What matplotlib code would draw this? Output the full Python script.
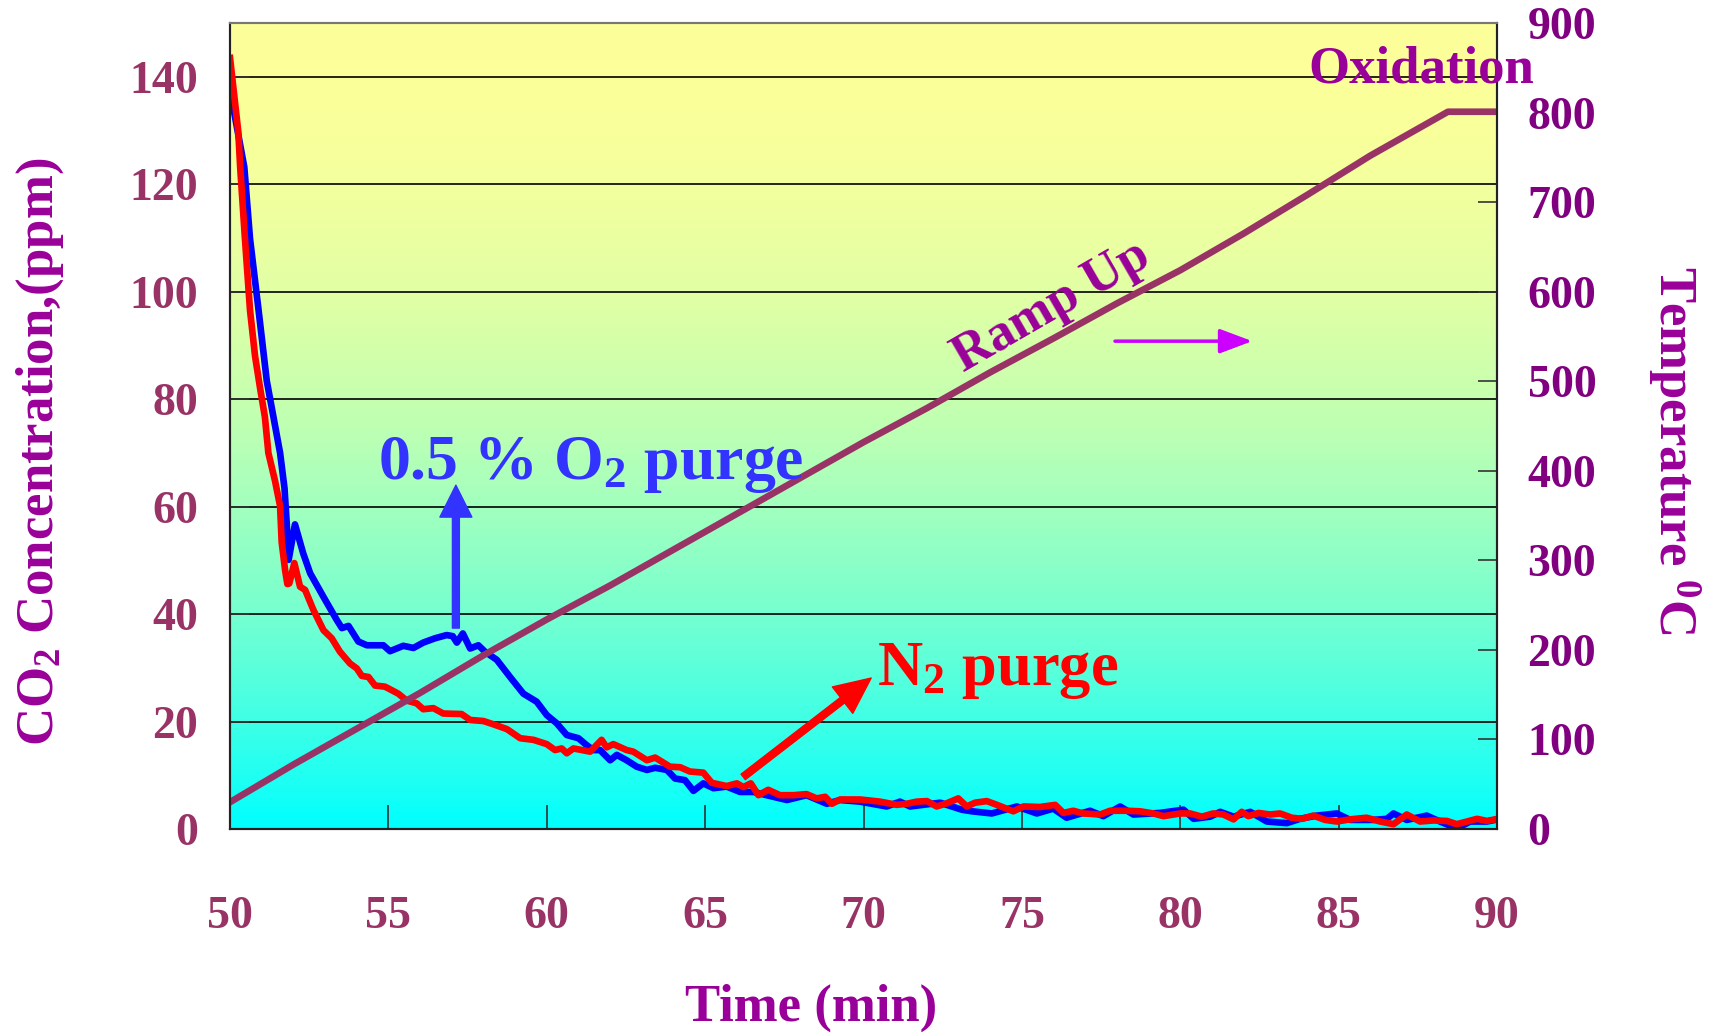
import numpy as np
import matplotlib.pyplot as plt

# values
blue_t = [50.0, 50.45, 50.63, 50.9, 51.16, 51.37, 51.58, 51.72, 51.79, 51.85, 52.05, 52.31, 52.53,
          52.95, 53.37, 53.53, 53.74, 54.05, 54.32, 54.84, 55.05, 55.47, 55.79, 56.1, 56.47, 56.84,
          57.03, 57.16, 57.35, 57.58, 57.84, 58.05, 58.42, 58.84, 59.26, 59.68, 60.0, 60.31, 60.63,
          61.0, 61.26, 61.47, 61.68, 62.0, 62.21, 62.52, 62.84, 63.16, 63.42, 63.79, 64.05, 64.36,
          64.63, 64.94, 65.26, 65.68, 66.1, 66.52, 67.15, 67.58, 68.2, 68.84, 69.26, 69.89, 70.73,
          71.15, 71.47, 72.42, 73.1, 73.42, 74.05, 74.84, 75.47, 75.99, 76.41, 77.15, 77.57, 78.1,
          78.52, 79.36, 80.1, 80.42, 80.94, 81.26, 81.68, 82.21, 82.73, 83.36, 83.78, 84.31, 84.94,
          85.36, 86.1, 86.52, 86.73, 87.15, 87.78, 88.2, 88.73, 89.15, 89.68, 89.94]
blue_co2 = [137.5, 123.2, 109.9, 96.6, 83.4, 76.7, 70.0, 63.4, 56.8, 50.1, 56.7, 51.3, 47.6,
            43.2, 38.9, 37.4, 37.8, 34.9, 34.2, 34.2, 33.1, 34.1, 33.7, 34.7, 35.5, 36.1,
            35.9, 34.7, 36.4, 33.6, 34.2, 33.0, 31.5, 28.3, 25.2, 23.7, 21.2, 19.7, 17.5,
            16.9, 15.6, 14.7, 14.7, 12.8, 13.8, 12.8, 11.6, 11.0, 11.4, 11.0, 9.4, 9.1,
            7.1, 8.5, 7.6, 7.9, 6.9, 6.9, 6.0, 5.4, 6.3, 4.7, 5.4, 5.1, 4.2,
            5.1, 4.2, 4.9, 3.6, 3.3, 2.9, 4.2, 2.9, 3.8, 2.1, 3.4, 2.4, 4.2,
            2.7, 3.0, 3.6, 1.9, 2.3, 3.2, 2.3, 3.2, 1.4, 1.1, 1.9, 2.5, 2.9,
            1.7, 1.7, 1.9, 2.9, 1.7, 2.5, 1.4, 0.1, 1.4, 1.4, 1.7]

red_t = [50.0, 50.26, 50.32, 50.47, 50.63, 50.79, 50.95, 51.1, 51.21, 51.42, 51.58, 51.63, 51.74,
         51.81, 51.87, 52.03, 52.21, 52.37, 52.63, 52.95, 53.21, 53.47, 53.79, 54.0, 54.16, 54.37,
         54.58, 54.89, 55.31, 55.58, 55.89, 56.1, 56.42, 56.73, 57.31, 57.58, 58.0, 58.31, 58.74,
         59.16, 59.58, 60.0, 60.26, 60.47, 60.63, 60.84, 61.37, 61.73, 61.89, 62.1, 62.52, 62.73,
         63.16, 63.42, 63.89, 64.21, 64.52, 64.94, 65.21, 65.68, 66.0, 66.21, 66.44, 66.68, 66.99,
         67.36, 67.79, 68.2, 68.52, 68.79, 69.0, 69.26, 69.89, 70.52, 71.05, 71.36, 71.68, 72.0,
         72.31, 72.63, 72.99, 73.26, 73.52, 73.89, 74.21, 74.73, 75.05, 75.57, 76.05, 76.31, 76.62,
         76.94, 77.47, 77.78, 78.31, 78.73, 79.15, 79.47, 80.0, 80.31, 80.68, 81.04, 81.36, 81.68,
         81.94, 82.15, 82.47, 82.83, 83.15, 83.52, 83.84, 84.2, 84.57, 84.94, 85.36, 85.88, 86.31,
         86.73, 87.15, 87.57, 88.0, 88.42, 88.73, 89.05, 89.37, 89.68, 89.94]
red_co2 = [143.5, 129.8, 123.2, 109.9, 96.6, 88.0, 82.0, 76.7, 70.0, 64.8, 60.1, 53.4, 48.1,
           45.6, 45.7, 49.5, 45.1, 44.5, 40.8, 37.0, 35.5, 33.0, 30.8, 29.9, 28.5, 28.3,
           26.7, 26.5, 25.2, 23.9, 23.4, 22.3, 22.5, 21.5, 21.4, 20.3, 20.1, 19.5, 18.6,
           16.9, 16.6, 15.8, 14.7, 15.0, 14.1, 15.0, 14.4, 16.6, 15.2, 15.8, 14.7, 14.4,
           12.8, 13.3, 11.6, 11.5, 10.7, 10.5, 8.6, 8.0, 8.5, 7.8, 8.5, 6.3, 7.3,
           6.3, 6.3, 6.5, 5.7, 6.0, 4.7, 5.5, 5.5, 5.1, 4.5, 4.7, 5.1, 5.2,
           4.2, 4.8, 5.7, 4.2, 4.9, 5.2, 4.5, 3.3, 4.2, 4.1, 4.5, 3.0, 3.4,
           2.9, 2.7, 3.4, 3.4, 3.3, 2.9, 2.4, 2.9, 2.9, 2.3, 2.9, 2.7, 1.8,
           3.2, 2.4, 3.0, 2.7, 2.9, 2.1, 1.9, 2.5, 1.7, 1.4, 1.8, 2.1, 1.4,
           0.9, 2.7, 1.4, 1.6, 1.5, 0.9, 1.4, 1.9, 1.5, 1.8]

temp_t = [50, 52, 54, 56, 58, 60, 62, 64, 66, 68, 70, 72, 74, 76, 78, 80, 82, 84, 86, 88, 88.45, 90]
temp_c = [30, 72, 112, 152, 194, 234, 272, 312, 352, 392, 432, 470, 510, 548, 587, 624, 665, 708,
          752, 792, 801, 801]

x_ticks = [50, 55, 60, 65, 70, 75, 80, 85, 90]
co2_ticks = [0, 20, 40, 60, 80, 100, 120, 140]
temp_ticks = [0, 100, 200, 300, 400, 500, 600, 700, 800, 900]

plt.rcParams['font.family'] = 'Liberation Serif'
plt.rcParams['font.weight'] = 'bold'
plt.rcParams['mathtext.fontset'] = 'custom'
plt.rcParams['mathtext.rm'] = 'Liberation Serif:bold'
plt.rcParams['mathtext.it'] = 'Liberation Serif:bold'
plt.rcParams['mathtext.bf'] = 'Liberation Serif:bold'
plt.rcParams['mathtext.default'] = 'bf'

fig = plt.figure(figsize=(17.18, 10.35), dpi=100)
ax = fig.add_axes([0.1339, 0.199, 0.7375, 0.7787])

# yellow -> cyan background
f = np.linspace(0, 1, 256)[:, None]
r = 253 * (1 - f ** 2)
grad = np.dstack([r, np.full_like(r, 255), 255 - 0.4 * r]) / 255
ax.imshow(grad, extent=[0, 1, 0, 1], transform=ax.transAxes, aspect='auto', zorder=-2)

ax.plot(blue_t, blue_co2, color='#0000FF', lw=4.8, zorder=3)
ax.plot(red_t, red_co2, color='#FF0000', lw=4.8, zorder=4)
ax.set_xlim(50, 90)
ax.set_ylim(0, 150)
ax.set_xticks(x_ticks)
ax.set_yticks(co2_ticks)
ax.yaxis.grid(True, color='black', lw=1.2)
ax.set_axisbelow(True)
ax.tick_params(axis='y', direction='in', length=14, width=1.2, color='#333333',
               labelcolor='#993366', labelsize=33, pad=23)
ax.tick_params(axis='x', direction='in', length=17, width=1.2, color='#333333',
               labelcolor='#993366', labelsize=33, pad=48)

ax2 = ax.twinx()
ax2.plot(temp_t, temp_c, color='#993366', lw=4.8)
ax2.set_ylim(0, 900)
ax2.set_yticks(temp_ticks)
ax2.tick_params(axis='y', direction='in', length=14, width=1.2, color='#333333',
                labelcolor='#800080', labelsize=33, pad=22)

for a in (ax, ax2):
    for s in a.spines.values():
        s.set_color('#222222')
        s.set_linewidth(1.5)
    a.spines['top'].set_color('#777777')

# annotations (drawn on top of everything, placed in CO2 coordinates)
ax2.text(54.67, 65.1, '0.5 % O$_2$ purge', transform=ax.transData, color='#3333FF',
         fontsize=46, ha='left', va='baseline')
ax2.text(70.43, 26.8, 'N$_2$ purge', transform=ax.transData, color='#FF0000',
         fontsize=45, ha='left', va='baseline')
ax2.text(84.03, 139.0, 'Oxidation', transform=ax.transData, color='#990099',
         fontsize=38, ha='left', va='baseline', clip_on=False)
ax2.text(75.95, 97.2, 'Ramp Up', transform=ax.transData, color='#990099',
         fontsize=38, ha='center', va='center', rotation=30, rotation_mode='anchor')

ax2.annotate('', xy=(57.13, 64.0), xytext=(57.13, 37.4), xycoords=ax.transData,
             textcoords=ax.transData,
             arrowprops=dict(facecolor='#3333FF', edgecolor='#3333FF', width=5,
                             headwidth=23, headlength=23, shrink=0))
ax2.annotate('', xy=(70.24, 28.1), xytext=(66.2, 9.7), xycoords=ax.transData,
             textcoords=ax.transData,
             arrowprops=dict(facecolor='#FF0000', edgecolor='#FF0000', width=5,
                             headwidth=24, headlength=26, shrink=0))
ax2.annotate('', xy=(82.36, 90.8), xytext=(77.85, 90.8), xycoords=ax.transData,
             textcoords=ax.transData,
             arrowprops=dict(arrowstyle='-|>,head_length=0.4,head_width=0.15',
                             color='#CC00FF', lw=2.5, mutation_scale=50))

fig.text(40 / 1718, 1 - 452 / 1035, 'CO$_2$ Concentration,(ppm)', rotation=90,
         ha='center', va='center', color='#990099', fontsize=38)
fig.text(1674 / 1718, 1 - 450 / 1035, 'Temperature $^0$C', rotation=270,
         ha='center', va='center', color='#990099', fontsize=38)
fig.text(811 / 1718, 1 - 1008 / 1035, 'Time (min)', ha='center', va='center',
         color='#990099', fontsize=38)

fig.savefig('out.png', dpi=100)
